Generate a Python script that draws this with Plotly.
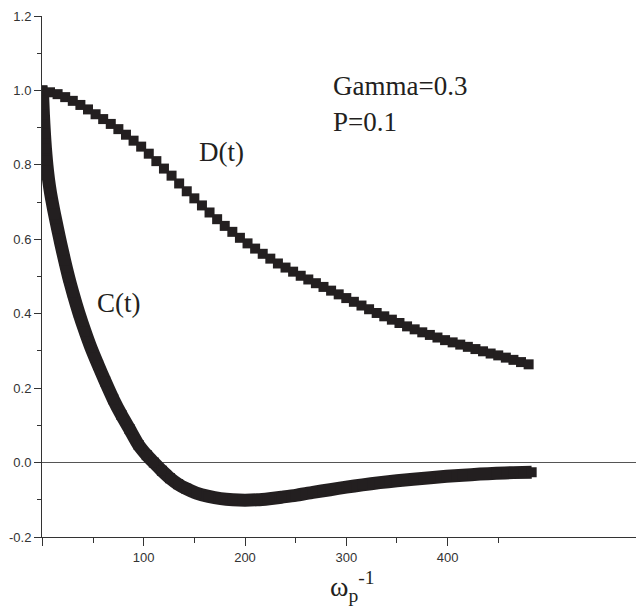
import plotly.graph_objects as go

# ---- data ----
t_D = [0, 7.5, 15, 22.5, 30, 37.5, 45, 52.5, 60, 67.5, 75, 82.5, 90, 97.5, 105, 112.5,
       120, 127.5, 135, 142.5, 150, 157.5, 165, 172.5, 180, 187.5, 195, 202.5, 210, 217.5,
       225, 232.5, 240, 247.5, 255, 262.5, 270, 277.5, 285, 292.5, 300, 307.5, 315, 322.5,
       330, 337.5, 345, 352.5, 360, 367.5, 375, 382.5, 390, 397.5, 405, 412.5, 420, 427.5,
       435, 442.5, 450, 457.5, 465, 472.5, 480]
D = [1.000, 0.995, 0.990, 0.982, 0.972, 0.961, 0.949, 0.936, 0.923, 0.910, 0.896, 0.881,
     0.865, 0.849, 0.830, 0.810, 0.790, 0.771, 0.750, 0.729, 0.710, 0.691, 0.672, 0.654,
     0.636, 0.620, 0.604, 0.589, 0.575, 0.561, 0.548, 0.535, 0.524, 0.513, 0.502, 0.492,
     0.482, 0.472, 0.462, 0.452, 0.442, 0.432, 0.422, 0.412, 0.402, 0.393, 0.384, 0.375,
     0.366, 0.358, 0.350, 0.343, 0.336, 0.329, 0.323, 0.317, 0.311, 0.305, 0.299, 0.293,
     0.288, 0.282, 0.276, 0.270, 0.264]

t_C = [0, 1, 2, 3, 4, 5, 6, 8, 10, 12, 15, 18, 22, 26, 30, 36, 42, 48, 55, 62, 70, 78,
       86, 95, 103, 110, 118, 126, 134, 142, 152, 164, 176, 188, 200, 212, 224, 236, 250,
       267, 284, 300, 316, 333, 350, 366, 383, 399, 415, 432, 448, 465, 483]
C = [1.000, 0.935, 0.885, 0.845, 0.812, 0.785, 0.762, 0.725, 0.695, 0.667, 0.628, 0.590,
     0.542, 0.497, 0.457, 0.402, 0.353, 0.308, 0.262, 0.218, 0.170, 0.128, 0.090, 0.047,
     0.020, 0.000, -0.022, -0.042, -0.058, -0.070, -0.082, -0.091, -0.097, -0.100, -0.101,
     -0.100, -0.097, -0.093, -0.088, -0.080, -0.073, -0.066, -0.060, -0.054, -0.049,
     -0.045, -0.041, -0.037, -0.034, -0.031, -0.029, -0.027, -0.026]

x_major = [0, 100, 200, 300, 400]
x_major_text = ["", "100", "200", "300", "400"]
x_minor = [50, 150, 250, 350, 450]
y_major = [-0.2, 0.0, 0.2, 0.4, 0.6, 0.8, 1.0, 1.2]
y_major_text = ["-0.2", "0.0", "0.2", "0.4", "0.6", "0.8", "1.0", "1.2"]
y_minor = [-0.1, 0.1, 0.3, 0.5, 0.7, 0.9, 1.1]

INK = "#231f20"
AXIS = "#333333"
SERIF = "Liberation Serif, Times New Roman, serif"
SANS = "Liberation Sans, Arial, Helvetica, sans-serif"

fig = go.Figure()
fig.add_trace(go.Scatter(
    x=t_C, y=C, mode="lines+markers", name="C(t)",
    line=dict(color=INK, width=13, shape="spline", smoothing=0.6),
    marker=dict(symbol="square", size=10, color=INK, line=dict(width=0)),
    showlegend=False, hoverinfo="skip"))
fig.add_trace(go.Scatter(
    x=t_D, y=D, mode="markers", name="D(t)",
    marker=dict(symbol="square", size=10, color=INK, line=dict(width=0)),
    showlegend=False, hoverinfo="skip"))

L, T, W, H = 42, 16, 594, 521


def px(x):
    return (x - L) / W


def py(y):
    return (T + H - y) / H


annots = [
    dict(text="Gamma=0.3", x=px(331), y=py(86)),
    dict(text="P=0.1", x=px(331), y=py(122)),
    dict(text="D(t)", x=px(197), y=py(152)),
    dict(text="C(t)", x=px(95), y=py(303)),
]
for a in annots:
    fig.add_annotation(xref="paper", yref="paper", xanchor="left", yanchor="middle",
                       showarrow=False, font=dict(family=SERIF, size=27, color=INK), **a)

fig.add_annotation(xref="paper", yref="paper", x=px(352), y=py(586),
                   xanchor="center", yanchor="middle", showarrow=False,
                   text="ω<sub>p</sub><sup>-1</sup>",
                   font=dict(family=SERIF, size=28, color=INK))

fig.update_layout(
    width=636, height=607,
    margin=dict(l=L, r=636 - L - W, t=T, b=607 - T - H, pad=0, autoexpand=False),
    paper_bgcolor="white", plot_bgcolor="white",
    xaxis=dict(range=[-0.4, 586], showgrid=False, zeroline=False, automargin=False,
               showline=True, linecolor=AXIS, linewidth=1,
               ticks="outside", ticklen=8, tickwidth=1, tickcolor=AXIS,
               tickmode="array", tickvals=x_major, ticktext=x_major_text,
               minor=dict(tickmode="array", tickvals=x_minor, ticks="outside",
                          ticklen=5, tickwidth=1, tickcolor=AXIS, showgrid=False),
               tickfont=dict(family=SANS, size=13, color="#333333")),
    yaxis=dict(range=[-0.2, 1.2], showgrid=False, automargin=False,
               zeroline=True, zerolinecolor="#555555", zerolinewidth=1,
               showline=True, linecolor=AXIS, linewidth=1,
               ticks="outside", ticklen=7, tickwidth=1, tickcolor=AXIS,
               tickmode="array", tickvals=y_major, ticktext=y_major_text,
               minor=dict(tickmode="array", tickvals=y_minor, ticks="outside",
                          ticklen=4, tickwidth=1, tickcolor=AXIS, showgrid=False),
               tickfont=dict(family=SANS, size=13, color="#333333")),
)

fig.write_html(
    "out.html",
    config={"displayModeBar": False, "staticPlot": True},
    post_script="document.body.style.margin='0px';document.body.style.overflow='hidden';",
)
